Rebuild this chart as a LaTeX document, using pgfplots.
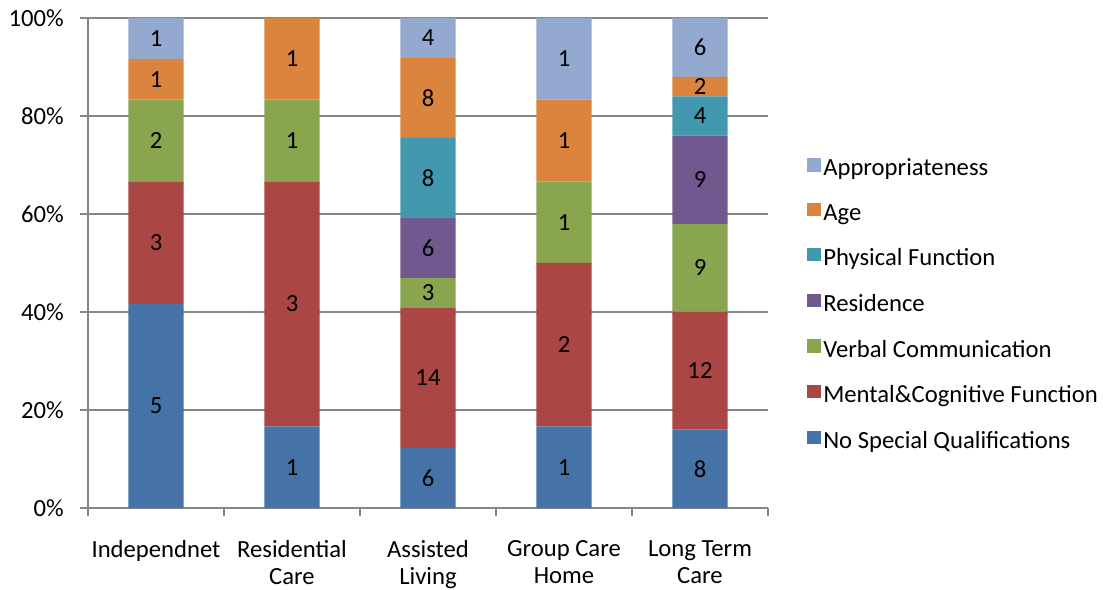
\documentclass[border=0pt]{standalone}
\usepackage{pgfplots}
\pgfplotsset{compat=1.18}
\usepackage{fontspec}
\setmainfont{Carlito}
\definecolor{cNSQ}{HTML}{4572A7}
\definecolor{cMCF}{HTML}{AA4643}
\definecolor{cVC}{HTML}{89A54E}
\definecolor{cRes}{HTML}{71588F}
\definecolor{cPF}{HTML}{4198AF}
\definecolor{cAge}{HTML}{DB843D}
\definecolor{cApp}{HTML}{93A9CF}
\definecolor{axgray}{HTML}{868686}
\newcommand{\chartfont}{\fontsize{18.5}{20.5}\selectfont}
\begin{document}
\begin{tikzpicture}
\path[use as bounding box] (-66pt,-60.75pt) rectangle (761.25pt,381pt);
\begin{axis}[
  at={(0,0)}, anchor=south west,
  scale only axis, width=510pt, height=367.5pt,
  xmin=-0.5, xmax=4.5, ymin=0, ymax=100,
  ybar stacked, bar width=0.405,
  axis x line*=bottom, axis y line*=left,
  axis line style={axgray, line width=1.5pt, -},
  xtick={0,1,2,3,4},
  xticklabels={Independnet, Residential\\Care, Assisted\\Living, Group Care\\Home, Long Term\\Care},
  minor xtick={-0.5,0.5,1.5,2.5,3.5,4.5},
  major x tick style={draw=none},
  minor x tick style={axgray, line width=1.5pt},
  ytick={0,20,40,60,80,100},
  yticklabel={\pgfmathprintnumber{\tick}\%},
  y tick style={axgray, line width=1.5pt},
  tick align=outside, major tick length=6pt, minor tick length=6pt,
  ymajorgrids, grid style={axgray, line width=1.5pt},
  /pgf/number format/assume math mode=true,
  tick label style={font=\chartfont},
  xticklabel style={align=center, anchor=north, inner sep=0pt, yshift=-18pt},
  yticklabel style={anchor=east, inner sep=0pt, xshift=-12pt},
  reverse legend,
  legend cell align=left,
  legend image code/.code={\fill[#1,draw=none] (0pt,-2.5pt) rectangle (10pt,7.5pt);},
  legend style={at={(axis description cs:1.0574,0.4153)}, anchor=west, draw=none, fill=none, inner sep=0pt,
    font=\chartfont, row sep=15.9pt},
]
\addplot[fill=cNSQ,draw=none] coordinates {(0,41.667) (1,16.667) (2,12.245) (3,16.667) (4,16)};
\addplot[fill=cMCF,draw=none] coordinates {(0,25) (1,50) (2,28.571) (3,33.333) (4,24)};
\addplot[fill=cVC,draw=none] coordinates {(0,16.667) (1,16.667) (2,6.122) (3,16.667) (4,18)};
\addplot[fill=cRes,draw=none] coordinates {(0,0) (1,0) (2,12.245) (3,0) (4,18)};
\addplot[fill=cPF,draw=none] coordinates {(0,0) (1,0) (2,16.327) (3,0) (4,8)};
\addplot[fill=cAge,draw=none] coordinates {(0,8.333) (1,16.667) (2,16.327) (3,16.667) (4,4)};
\addplot[fill=cApp,draw=none] coordinates {(0,8.333) (1,0) (2,8.163) (3,16.667) (4,12)};
\legend{No Special Qualifications, Mental\&Cognitive Function, Verbal Communication, Residence, Physical Function, Age, Appropriateness}
\end{axis}
\begin{axis}[
  at={(0,0)}, anchor=south west,
  scale only axis, width=510pt, height=367.5pt,
  xmin=-0.5, xmax=4.5, ymin=0, ymax=100,
  hide axis, clip=false,
  point meta=explicit symbolic,
  nodes near coords,
  nodes near coords align=center,
  every node near coord/.append style={font=\chartfont, black, inner sep=0pt},
]
\addplot[only marks, mark=none] coordinates {
  (0,20.833)[5] (0,54.167)[3] (0,75)[2] (0,87.5)[1] (0,95.833)[1]
  (1,8.333)[1] (1,41.667)[3] (1,75)[1] (1,91.667)[1]
  (2,6.122)[6] (2,26.531)[14] (2,43.878)[3] (2,53.061)[6] (2,67.347)[8] (2,83.673)[8] (2,95.918)[4]
  (3,8.333)[1] (3,33.333)[2] (3,58.333)[1] (3,75)[1] (3,91.667)[1]
  (4,8)[8] (4,28)[12] (4,49)[9] (4,67)[9] (4,80)[4] (4,86)[2] (4,94)[6]
};
\end{axis}
\end{tikzpicture}
\end{document}
